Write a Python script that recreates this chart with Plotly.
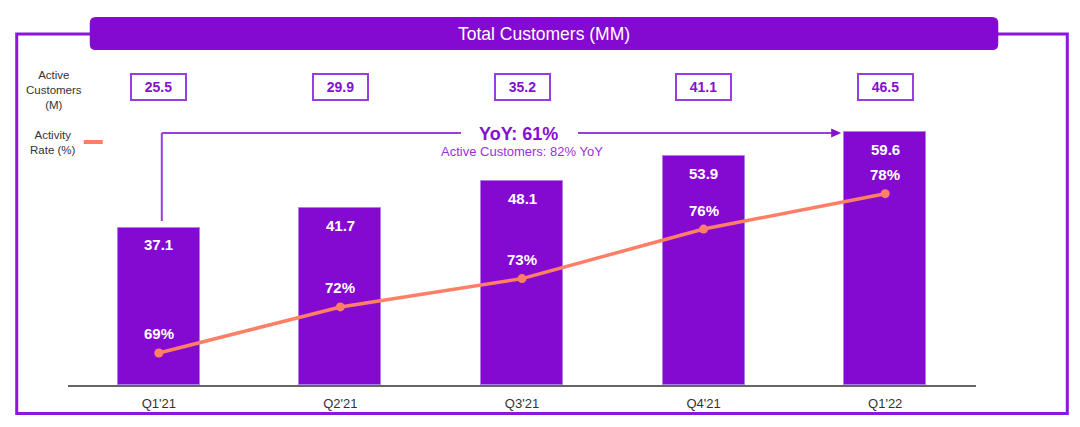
import plotly.graph_objects as go

# ---------------- data ----------------
quarters = ["Q1'21", "Q2'21", "Q3'21", "Q4'21", "Q1'22"]
total_customers = [37.1, 41.7, 48.1, 53.9, 59.6]
active_customers = [25.5, 29.9, 35.2, 41.1, 46.5]
activity_rate = [69.0, 71.6, 73.2, 76.0, 78.0]
activity_rate_labels = ["69%", "72%", "73%", "76%", "78%"]
title_text = "Total Customers (MM)"
yoy_text = "YoY: 61%"
yoy_sub_text = "Active Customers: 82% YoY"

# ---------------- layout helpers (screen pixel -> paper) ----------------
W, H = 1080, 427
OFF = 8  # page body margin
# plot area in screen pixels
PL, PR, PT, PB = 68.25, 975.75, 20, 385
ML = PL - OFF
MR = W - (PR - OFF)
MT = PT - OFF
MB = H - (PB - OFF)
PW = PR - PL
PH = PB - PT


def px(x):
    return (x - PL) / PW


def py(y):
    return (PB - y) / PH


PURPLE = "#840AD2"
PURPLE_LINE = "#9A3DE0"
SALMON = "#FF7F66"
FONT = "Liberation Sans, Arial, Helvetica, sans-serif"

fig = go.Figure()

fig.add_trace(go.Bar(
    x=quarters, y=total_customers,
    marker=dict(color=PURPLE, line=dict(color="#B27AEA", width=1)),
    width=0.452, hoverinfo="skip", showlegend=False,
))

fig.add_trace(go.Scatter(
    x=quarters, y=activity_rate, yaxis="y2", mode="lines+markers",
    line=dict(color=SALMON, width=3.5),
    marker=dict(color=SALMON, size=9),
    hoverinfo="skip", showlegend=False,
))

shapes = []
annotations = []

# outer frame
shapes.append(dict(type="rect", xref="paper", yref="paper",
                   x0=px(17), x1=px(1067), y0=py(413.5), y1=py(34),
                   line=dict(color="#8A18D8", width=3), layer="above"))

# title bar (rounded rect)
x0, x1, y0, y1, r = 90, 998, 17, 50, 6
path = (f"M {px(x0 + r)},{py(y0)} L {px(x1 - r)},{py(y0)} "
        f"Q {px(x1)},{py(y0)} {px(x1)},{py(y0 + r)} "
        f"L {px(x1)},{py(y1 - r)} Q {px(x1)},{py(y1)} {px(x1 - r)},{py(y1)} "
        f"L {px(x0 + r)},{py(y1)} Q {px(x0)},{py(y1)} {px(x0)},{py(y1 - r)} "
        f"L {px(x0)},{py(y0 + r)} Q {px(x0)},{py(y0)} {px(x0 + r)},{py(y0)} Z")
shapes.append(dict(type="path", xref="paper", yref="paper", path=path,
                   fillcolor=PURPLE, line=dict(width=0), layer="above"))
annotations.append(dict(xref="paper", yref="paper", x=px(544), y=py(34),
                        text=title_text, showarrow=False,
                        font=dict(family=FONT, size=17.5, color="white"),
                        xanchor="center", yanchor="middle"))

# left side labels
annotations.append(dict(xref="paper", yref="paper", x=px(54), y=py(89.5),
                        text="Active<br>Customers<br>(M)", showarrow=False,
                        font=dict(family=FONT, size=11.5, color="#333333"),
                        align="center", xanchor="center", yanchor="middle"))
annotations.append(dict(xref="paper", yref="paper", x=px(53), y=py(142),
                        text="Activity<br>Rate (%)", showarrow=False,
                        font=dict(family=FONT, size=11.5, color="#333333"),
                        align="center", xanchor="center", yanchor="middle"))
shapes.append(dict(type="line", xref="paper", yref="paper",
                   x0=px(84), x1=px(103), y0=py(142), y1=py(142),
                   line=dict(color=SALMON, width=4)))

# active customers boxes
for q, v in zip(quarters, active_customers):
    annotations.append(dict(xref="x", yref="paper", x=q, y=py(87),
                            text=f"<b>{v:.1f}</b>", showarrow=False,
                            font=dict(family=FONT, size=14, color="#8410D0"),
                            width=53, height=24, borderwidth=2, borderpad=0,
                            bordercolor="#9A3DE0", bgcolor="white",
                            xanchor="center", yanchor="middle"))

# YoY bracket
line_style = dict(color=PURPLE_LINE, width=2)
shapes.append(dict(type="line", xref="paper", yref="paper",
                   x0=px(162), x1=px(162), y0=py(221), y1=py(133), line=line_style))
shapes.append(dict(type="line", xref="paper", yref="paper",
                   x0=px(162), x1=px(461), y0=py(133), y1=py(133), line=line_style))
shapes.append(dict(type="line", xref="paper", yref="paper",
                   x0=px(578), x1=px(833), y0=py(133), y1=py(133), line=line_style))
shapes.append(dict(type="path", xref="paper", yref="paper",
                   path=f"M {px(841)},{py(133)} L {px(831)},{py(128.5)} L {px(831)},{py(137.5)} Z",
                   fillcolor="#8410D0", line=dict(width=0)))
annotations.append(dict(xref="paper", yref="paper", x=px(519), y=py(134),
                        text=f"<b>{yoy_text}</b>", showarrow=False,
                        font=dict(family=FONT, size=18, color="#8410D0"),
                        xanchor="center", yanchor="middle"))
annotations.append(dict(xref="paper", yref="paper", x=px(522), y=py(151.5),
                        text=yoy_sub_text, showarrow=False,
                        font=dict(family=FONT, size=13, color="#9A30E0"),
                        xanchor="center", yanchor="middle"))

# bar value labels
for q, v in zip(quarters, total_customers):
    annotations.append(dict(xref="x", yref="y", x=q, y=v, yshift=-17,
                            text=f"<b>{v:.1f}</b>", showarrow=False,
                            font=dict(family=FONT, size=15, color="white"),
                            xanchor="center", yanchor="middle"))

# activity rate labels
for q, v, t in zip(quarters, activity_rate, activity_rate_labels):
    annotations.append(dict(xref="x", yref="y2", x=q, y=v, yshift=19,
                            text=f"<b>{t}</b>", showarrow=False,
                            font=dict(family=FONT, size=15, color="white"),
                            xanchor="center", yanchor="middle"))

fig.update_layout(
    width=W, height=H,
    margin=dict(l=ML, r=MR, t=MT, b=MB, pad=0),
    paper_bgcolor="white", plot_bgcolor="white",
    font=dict(family=FONT),
    bargap=0,
    xaxis=dict(type="category", range=[-0.5, 4.5], showline=True,
               linecolor="#666666", linewidth=1.5, showgrid=False, zeroline=False,
               ticks="", ticklabelstandoff=6,
               tickfont=dict(family=FONT, size=13, color="#333333"),
               fixedrange=True),
    yaxis=dict(range=[0, PH / 4.24], visible=False, fixedrange=True),
    yaxis2=dict(range=[67.19, 67.19 + PH / 17.7], overlaying="y", visible=False,
                fixedrange=True),
    shapes=shapes,
    annotations=annotations,
    showlegend=False,
)

fig.write_html("out.html")
